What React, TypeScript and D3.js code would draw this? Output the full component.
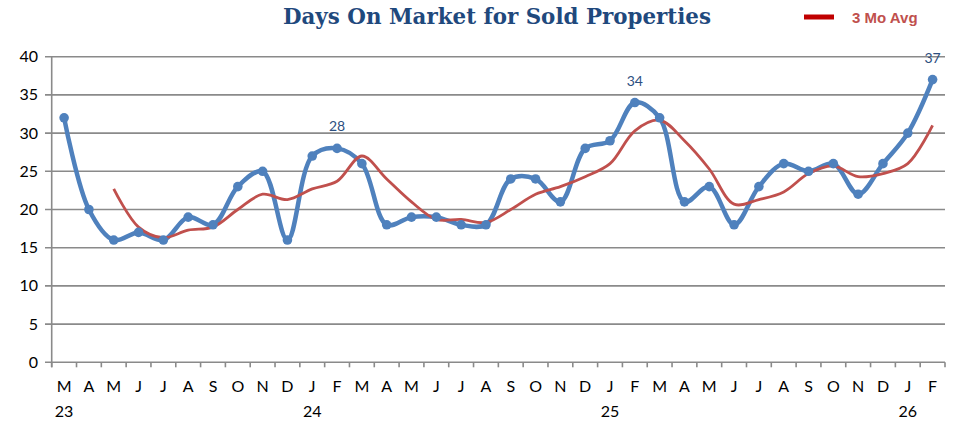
import React from "react";
import * as d3 from "d3";

const months = ["M","A","M","J","J","A","S","O","N","D","J","F","M","A","M","J","J","A","S","O","N","D","J","F","M","A","M","J","J","A","S","O","N","D","J","F"];
const yearLabels: Record<number, string> = { 0: "23", 10: "24", 22: "25", 34: "26" };
const daysOnMarket = [32,20,16,17,16,19,18,23,25,16,27,28,26,18,19,19,18,18,24,24,21,28,29,34,32,21,23,18,23,26,25,26,22,26,30,37];
const avg3 = [null,null,22.7,17.7,16.3,17.3,17.7,20,22,21.3,22.7,23.7,27,24,21,18.7,18.7,18.3,20,22,23,24.3,26,30.3,31.7,29,25.3,20.7,21.3,22.3,24.7,25.7,24.3,24.7,26,31];
const yTicks = [0,5,10,15,20,25,30,35,40];
const labeled = [11, 23, 35];

const W = 953, H = 422;
const left = 51.7, right = 945, top = 56.7, bottom = 362.3;

export default function App() {
  const x = d3.scaleBand<number>().domain(d3.range(months.length)).range([left, right]).padding(0);
  const cx = (i: number) => (x(i) as number) + x.bandwidth() / 2;
  const y = d3.scaleLinear().domain([0, 40]).range([bottom, top]);

  const blueLine = d3.line<number>().x((_, i) => cx(i)).y((d) => y(d)).curve(d3.curveCatmullRom.alpha(0.5));
  const avgPts = avg3.map((v, i) => [i, v] as [number, number | null]).filter((p) => p[1] != null) as [number, number][];
  const redLine = d3.line<[number, number]>().x((d) => cx(d[0])).y((d) => y(d[1])).curve(d3.curveCatmullRom.alpha(0.5));

  const font = "Lato, 'Open Sans', sans-serif";
  return (
    <svg width={W} height={H} style={{ position: "absolute", left: 0, top: 0, background: "#fff" }}>
      <text x={497} y={24} textAnchor="middle" fontFamily="'DejaVu Serif', serif" fontWeight="bold" fontSize={21.4} fill="#1F497D">
        Days On Market for Sold Properties
      </text>
      <line x1={804} x2={834} y1={17} y2={17} stroke="#C00000" strokeWidth={5} />
      <text x={852} y={23} fontFamily="'Liberation Sans', Arial, sans-serif" fontWeight="bold" fontSize={15} fill="#C0504D">3 Mo Avg</text>

      {yTicks.map((t) => (
        <g key={t}>
          <line x1={45} x2={right} y1={y(t)} y2={y(t)} stroke="#8A8A8A" strokeWidth={1.6} />
          <text x={38} y={y(t) + 5.5} textAnchor="end" fontFamily={font} fontSize={16} fill="#000">{t}</text>
        </g>
      ))}
      <line x1={left} x2={left} y1={top} y2={bottom + 5} stroke="#8A8A8A" strokeWidth={1.6} />
      {d3.range(months.length + 1).map((i) => {
        const xx = i < months.length ? (x(i) as number) : right;
        return <line key={i} x1={xx} x2={xx} y1={bottom} y2={bottom + 5} stroke="#8A8A8A" strokeWidth={1.6} />;
      })}
      {months.map((m, i) => (
        <text key={i} x={cx(i)} y={392} textAnchor="middle" fontFamily={font} fontSize={16} fill="#000">{m}</text>
      ))}
      {Object.entries(yearLabels).map(([k, v]) => (
        <text key={k} x={cx(+k)} y={417} textAnchor="middle" fontFamily={font} fontSize={16} fill="#000">{v}</text>
      ))}

      <path d={blueLine(daysOnMarket) || ""} fill="none" stroke="#4F81BD" strokeWidth={4.5} strokeLinejoin="round" />
      <path d={redLine(avgPts) || ""} fill="none" stroke="#C0504D" strokeWidth={2.8} />
      {daysOnMarket.map((v, i) => (
        <circle key={i} cx={cx(i)} cy={y(v)} r={4.8} fill="#4F81BD" />
      ))}
      {labeled.map((i) => (
        <text key={i} x={cx(i)} y={y(daysOnMarket[i]) - 17} textAnchor="middle" fontFamily={font} fontSize={14} fill="#2D4F7F">
          {daysOnMarket[i]}
        </text>
      ))}
    </svg>
  );
}
